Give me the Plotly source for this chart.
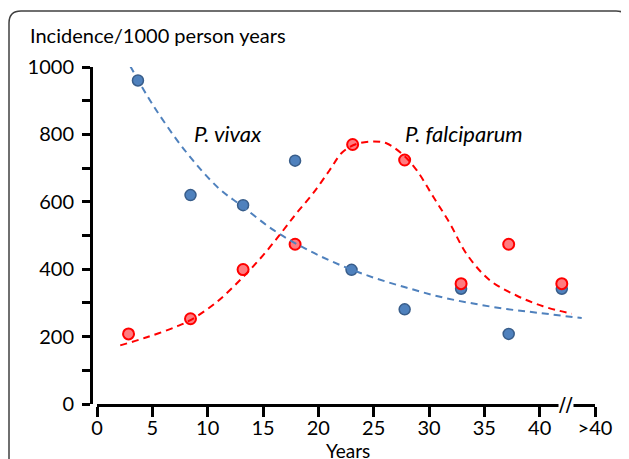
import plotly.graph_objects as go

# ---- data ----
vivax_years = [3.7, 8.45, 13.2, 17.9, 23.0, 27.8, 32.9, 37.2, 42.0]
vivax_incidence = [960, 620, 590, 722, 398, 281, 342, 208, 342]

falci_years = [2.85, 8.45, 13.2, 17.9, 23.1, 27.8, 32.9, 37.2, 42.0]
falci_incidence = [208, 253, 399, 474, 770, 724, 357, 474, 357]

# fitted trend lines (dashed)
vivax_fit_x = [3.0, 5, 8, 11, 13, 16, 19, 22, 25, 28, 31, 34, 37, 40, 43.8]
vivax_fit_y = [1003, 890, 750, 640, 590, 515, 458, 412, 375, 345, 318, 298, 282, 270, 255]

falci_fit_x = [2.1, 4.5, 7.2, 8.4, 10.8, 13.2, 15.0, 16.7, 18.0, 19.5, 21.0, 22.2,
               23.5, 25.0, 26.2, 27.7, 28.9, 30.4, 31.9, 33.4, 35.5, 37.9, 40.3, 42.9]
falci_fit_y = [174, 198, 230, 248, 302, 377, 441, 510, 565, 624, 693, 748,
               772, 779, 773, 738, 693, 614, 535, 445, 367, 322, 290, 268]

x_tickvals = [0, 5, 10, 15, 20, 25, 30, 35, 40, 45]
x_ticktext = ['0', '5', '10', '15', '20', '25', '30', '35', '40', '>40']

FONT = 'Lato'
BLUE = '#4F81BD'
RED = '#FF0000'

fig = go.Figure()

fig.add_trace(go.Scatter(
    x=vivax_years, y=vivax_incidence, mode='markers',
    marker={'size': 11, 'color': BLUE, 'line': {'color': '#385D8A', 'width': 1.5}},
    cliponaxis=False,
))
fig.add_trace(go.Scatter(
    x=falci_years, y=falci_incidence, mode='markers',
    marker={'size': 11, 'color': '#FF7C80', 'line': {'color': RED, 'width': 2}},
    cliponaxis=False,
))
fig.add_trace(go.Scatter(
    x=vivax_fit_x, y=vivax_fit_y, mode='lines', line_shape='spline',
    line={'color': BLUE, 'width': 2, 'dash': '7px,5px'},
))
fig.add_trace(go.Scatter(
    x=falci_fit_x, y=falci_fit_y, mode='lines', line_shape='spline',
    line={'color': RED, 'width': 2, 'dash': '7px,5px'},
))

# plot area in figure pixels (page body adds an 8px offset)
PX_L, PX_R, PX_T, PX_B = 89, 587, 59, 396


def fx(p):
    return (p - PX_L) / (PX_R - PX_L)


def fy(p):
    return (PX_B - p) / (PX_B - PX_T)


# rounded frame round the whole chart
bl, br, bt, bb, r = 1, 620, 3, 480, 12
frame = (f'M {fx(bl)},{fy(bt + r)} Q {fx(bl)},{fy(bt)} {fx(bl + r)},{fy(bt)} '
         f'L {fx(br - r)},{fy(bt)} Q {fx(br)},{fy(bt)} {fx(br)},{fy(bt + r)} '
         f'L {fx(br)},{fy(bb)} M {fx(bl)},{fy(bt + r)} L {fx(bl)},{fy(bb)}')
fig.add_shape(type='path', path=frame, xref='paper', yref='paper',
              line={'color': '#404040', 'width': 1.5})

fig.update_layout(
    width=629,
    height=459,
    margin={'l': PX_L, 'r': 629 - PX_R, 't': PX_T, 'b': 459 - PX_B},
    paper_bgcolor='white',
    plot_bgcolor='white',
    showlegend=False,
    hovermode=False,
    font={'family': FONT, 'size': 20, 'color': 'black'},
    title={'text': 'Incidence/1000 person years', 'x': 22 / 629, 'xanchor': 'left',
           'y': 1 - 28 / 459, 'yanchor': 'middle',
           'font': {'family': FONT, 'size': 20, 'color': 'black'}},
    annotations=[
        dict(text='<i>P. vivax</i>', x=11.85, y=803, xref='x', yref='y',
             showarrow=False, font={'size': 22}),
        dict(text='<i>P. falciparum</i>', x=33.15, y=803, xref='x', yref='y',
             showarrow=False, font={'size': 22}),
        dict(text='Years', x=22.7, y=fy(442), xref='x', yref='paper',
             xanchor='center', yanchor='middle',
             showarrow=False, font={'size': 19}),
        # axis break
        dict(text='//', x=42.4, y=0, xref='x', yref='y', showarrow=False,
             xanchor='center', yanchor='middle',
             bgcolor='white', borderpad=0, font={'family': 'DejaVu Sans', 'size': 20}),
    ],
)

fig.update_xaxes(
    range=[0, 45],
    showline=True, linewidth=3, linecolor='black',
    ticks='outside', ticklen=10, tickwidth=3, tickcolor='black',
    tickvals=x_tickvals, ticktext=x_ticktext, ticklabelstandoff=-6,
    showgrid=False, zeroline=False,
)

fig.update_yaxes(
    range=[0, 1000],
    anchor='free', position=0, shift=-6,
    showline=True, linewidth=3, linecolor='black',
    ticks='outside', ticklen=8, tickwidth=3, tickcolor='black',
    dtick=200, ticklabelstandoff=4,
    minor={'dtick': 100, 'ticks': 'outside', 'ticklen': 8, 'tickwidth': 3, 'tickcolor': 'black'},
    showgrid=False, zeroline=False,
)

fig.write_html("out.html")
